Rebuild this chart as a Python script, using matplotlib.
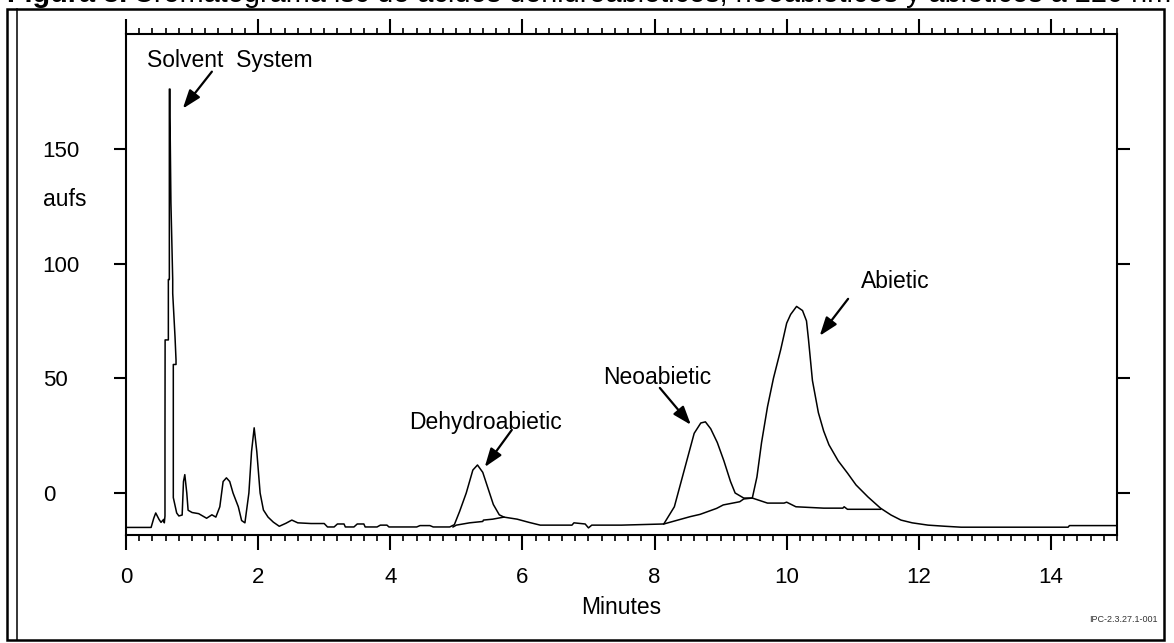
import matplotlib
matplotlib.use("Agg")
import matplotlib.pyplot as plt
from matplotlib.patches import Rectangle
from matplotlib.lines import Line2D
from matplotlib.ticker import MultipleLocator

plt.rcParams["font.family"] = ["Liberation Sans", "DejaVu Sans"]

# chromatogram trace (minutes, aufs); the solvent front is stored in
# detector order, so time steps back a little inside that peak
time_min = [
    0.00, 0.38, 0.42, 0.45, 0.50, 0.53, 0.57, 0.58, 0.59, 0.59, 0.592, 0.641,
    0.641, 0.656, 0.656, 0.666, 0.666, 0.676, 0.68, 0.707, 0.707, 0.742, 0.757,
    0.757, 0.716, 0.716, 0.767, 0.80, 0.85, 0.87, 0.89,
    0.92, 0.94, 1.00, 1.10, 1.22, 1.30, 1.36, 1.42, 1.47, 1.52, 1.57, 1.62,
    1.70, 1.75, 1.80, 1.86, 1.90, 1.94, 1.98, 2.03, 2.08, 2.15, 2.23, 2.32,
    2.42, 2.51, 2.60, 2.80, 3.00, 3.05, 3.15, 3.20, 3.30, 3.32, 3.45, 3.50,
    3.60, 3.62, 3.80, 3.85, 3.95, 3.98, 4.40, 4.45, 4.60, 4.65, 4.90, 4.97,
    5.05, 5.15, 5.25, 5.32, 5.40, 5.48, 5.56, 5.65, 5.72, 5.92, 6.10, 6.27,
    6.75, 6.78, 6.95, 7.00, 7.05, 7.50, 8.14, 8.30, 8.45, 8.60, 8.70, 8.77,
    8.85, 8.95, 9.05, 9.15, 9.22, 9.35, 9.48, 9.55, 9.62, 9.71, 9.80, 9.91,
    10.00, 10.06, 10.15, 10.24, 10.30, 10.33, 10.39, 10.48, 10.56, 10.64,
    10.78, 10.92, 11.05, 11.23, 11.42, 11.58, 11.73, 11.90, 12.14, 12.40,
    12.64, 14.26, 14.28, 15.00,
]
signal = [
    -15.0, -15.0, -11.0, -8.7, -11.5, -12.8, -11.5, -13.0, -10.0, 24.5, 66.7, 66.7,
    93.0, 93.0, 176.0, 176.0, 164.0, 135.0, 126.5, 93.0, 87.0, 68.0, 58.0,
    56.0, 56.0, -2.0, -8.7, -10.0, -9.6, 5.0, 8.0,
    0.0, -7.5, -8.5, -9.0, -11.0, -9.5, -10.5, -6.0, 5.0, 6.6, 5.0, 0.0,
    -6.0, -12.0, -13.0, 0.0, 18.0, 28.4, 18.0, 0.0, -7.4, -10.5, -12.7, -14.5,
    -13.2, -11.8, -13.0, -13.3, -13.3, -14.8, -14.8, -13.5, -13.5, -14.8, -14.8, -13.5,
    -13.5, -14.8, -14.8, -14.0, -14.0, -14.8, -14.8, -14.2, -14.2, -14.8, -14.8, -13.8,
    -8.0, 0.0, 10.0, 12.2, 9.0, 2.0, -5.0, -9.5, -10.5, -11.4, -12.8, -14.0,
    -14.0, -13.0, -13.5, -15.2, -14.0, -14.0, -13.5, -6.0, 10.0, 26.0, 30.5, 31.0,
    28.0, 22.0, 14.0, 5.0, 0.0, -2.2, -2.2, 7.0, 22.0, 37.6, 50.0, 62.5,
    74.0, 77.8, 81.3, 79.5, 75.0, 67.0, 49.0, 35.0, 27.0, 21.0,
    14.0, 8.7, 3.5, -1.7, -6.6, -9.6, -11.8, -13.0, -14.0, -14.5,
    -14.9, -14.9, -14.2, -14.2,
]

# baseline drawn under the dehydroabietic peak
base1_time = [4.95, 5.00, 5.20, 5.40, 5.41, 5.55, 5.72]
base1_signal = [-14.8, -14.0, -13.0, -12.4, -11.8, -11.4, -10.5]

# baseline drawn under the neoabietic / abietic pair
base2_time = [8.14, 8.54, 8.69, 8.94, 9.04, 9.29, 9.35, 9.48, 9.71, 9.96,
              10.00, 10.14, 10.56, 10.85, 10.87, 10.92, 11.42]
base2_signal = [-13.5, -10.3, -9.3, -6.7, -5.2, -3.8, -2.6, -2.2, -4.4, -4.4,
                -4.0, -6.0, -6.6, -6.6, -6.0, -7.1, -7.1]

peak_labels = ["Solvent  System", "Dehydroabietic", "Neoabietic", "Abietic"]
label_pos = [(0.318, 193.6), (5.434, 35.8), (8.04, 55.2), (11.65, 97.3)]
label_ha = ["left", "center", "center", "center"]
arrow_tail = [(1.30, 183.6), (5.84, 27.5), (8.08, 45.8), (10.93, 84.6)]
arrow_tip = [(0.86, 167.5), (5.43, 11.3), (8.55, 29.7), (10.50, 68.5)]

W, H = 1174, 643
fig = plt.figure(figsize=(W / 100, H / 100), dpi=100)
ax = fig.add_axes([126 / W, 1 - 535 / H, (1117 - 126) / W, (535 - 34) / H])

ax.plot(time_min, signal, color="black", lw=1.1)
ax.plot(base1_time, base1_signal, color="black", lw=1.1)
ax.plot(base2_time, base2_signal, color="black", lw=1.1)

for text, pos, ha, tail, tip in zip(peak_labels, label_pos, label_ha,
                                     arrow_tail, arrow_tip):
    ax.text(pos[0], pos[1], text, ha=ha, va="top", fontsize=16.5)
    ax.annotate("", xy=tip, xytext=tail,
                arrowprops=dict(arrowstyle="-|>,head_length=0.7,head_width=0.25",
                                lw=1.6, color="black", shrinkA=0, shrinkB=0,
                                mutation_scale=16))

ax.set_xlim(0, 15)
ax.set_ylim(-18.3, 200)
ax.set_xticks(range(0, 16, 2))
ax.xaxis.set_minor_locator(MultipleLocator(0.2))
ax.set_yticks([0, 50, 100, 150])

for s in ax.spines.values():
    s.set_linewidth(1.5)

ax.tick_params(axis="x", which="major", direction="out", length=11, width=1.5,
               top=True, labelsize=16, pad=12)
ax.tick_params(axis="x", which="minor", direction="out", length=4.5, width=1.2,
               top=True)
ax.tick_params(axis="y", which="major", direction="out", length=9, width=1.5,
               right=True, labelsize=16, pad=51)
for lab in ax.get_yticklabels():
    lab.set_horizontalalignment("left")

ax.set_xlabel("Minutes", fontsize=16.5, labelpad=6)
fig.text(43 / W, 1 - 199 / H, "aufs", ha="left", va="center", fontsize=16.5)
fig.text(1158 / W, 1 - 619 / H, "IPC-2.3.27.1-001", ha="right", va="center",
         fontsize=6.5, color="#333333")

# frame around the figure
fig.add_artist(Rectangle((7 / W, 1 - 640 / H), (1164 - 7) / W, (640 - 9) / H,
                         transform=fig.transFigure, fill=False, lw=1.8,
                         edgecolor="black"))
fig.add_artist(Line2D([17 / W, 17 / W], [1 - 9 / H, 1 - 640 / H],
                      transform=fig.transFigure, color="black", lw=1.1))

# caption, cut by the top edge
renderer = fig.canvas.get_renderer()
cap1 = fig.text(7 / W, 1 - 2.5 / H, "Figura 3.", ha="left", va="baseline",
                fontsize=20.8, fontweight="bold")
ext = cap1.get_window_extent(renderer)
fig.text((ext.x1 + 6) / W, 1 - 2.5 / H,
         "Cromatograma lsc de ácidos dehidroabieticos, neoabieticos y abieticos a 220 nm",
         ha="left", va="baseline", fontsize=20.8)

fig.savefig("out.png", dpi=100)
